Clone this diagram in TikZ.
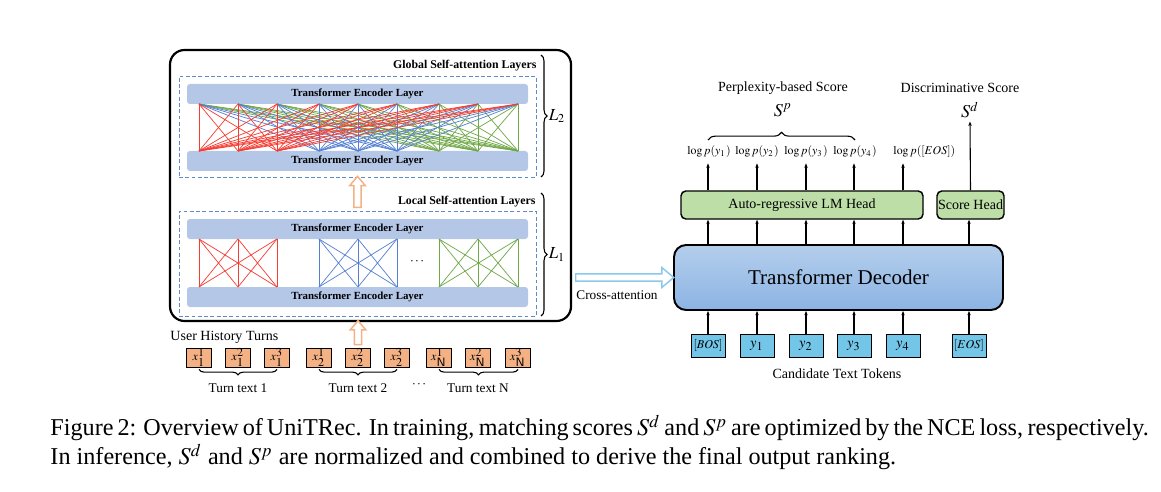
\documentclass[tikz,border=0pt]{standalone}
\usepackage{mathptmx}
\usepackage{fontspec}
\setmainfont{Liberation Serif}
\usetikzlibrary{arrows.meta,shapes.arrows,decorations.pathreplacing,fit,calc}

\newcommand{\px}{0.4138pt}
\definecolor{barblue}{RGB}{180,199,231}
\definecolor{dashblue}{RGB}{91,140,200}
\definecolor{lnred}{RGB}{245,60,50}
\definecolor{lnblue}{RGB}{85,128,210}
\definecolor{lngreen}{RGB}{112,168,72}
\definecolor{turnorange}{RGB}{244,177,131}
\definecolor{tokblue}{RGB}{115,198,232}
\definecolor{headgreen}{RGB}{190,222,168}
\definecolor{decTop}{RGB}{180,206,236}
\definecolor{decBot}{RGB}{140,180,228}
\definecolor{crossblue}{RGB}{140,200,235}

\tikzset{
  encbar/.style={fill=barblue, rounded corners=1.2pt, inner sep=0pt,
    minimum width=341*\px, minimum height=20*\px,
    font=\fontsize{4.5}{5}\selectfont\bfseries},
  attbox/.style={draw=dashblue, dash pattern=on 1.6pt off 1pt, line width=0.4pt, inner sep=0pt},
  attline/.style={line width=0.3pt},
  ttl/.style={font=\fontsize{4.9}{5.5}\selectfont\bfseries, inner sep=0pt},
  lbl/.style={font=\fontsize{5.5}{6.5}\selectfont, inner sep=0pt},
  turnbox/.style={draw, fill=turnorange, line width=0.4pt, minimum width=25*\px,
    minimum height=19*\px, inner sep=0pt, font=\fontsize{5}{6}\selectfont},
  tokbox/.style={draw, fill=tokblue, line width=0.4pt, minimum width=34*\px,
    minimum height=23*\px, inner sep=0pt, font=\fontsize{6}{7}\selectfont},
  headbox/.style={draw, fill=headgreen, line width=0.6pt, rounded corners=2pt,
    inner sep=0pt, minimum height=28*\px, font=\fontsize{5.8}{7}\selectfont},
  holarrow/.style={single arrow, draw=turnorange, fill=white, line width=0.6pt,
    inner sep=1.2pt, single arrow head extend=1.7pt, single arrow tip angle=80,
    minimum height=31*\px, rotate=90},
  crossarrow/.style={single arrow, draw=crossblue, fill=white, line width=0.6pt,
    inner sep=1.2pt, single arrow head extend=2.6pt, single arrow tip angle=80,
    minimum height=98*\px},
  lbrace/.style={decorate, decoration={brace, amplitude=2.5pt}, line width=0.45pt},
  arr/.style={-{Stealth[length=1.8pt, width=1.4pt]}, line width=0.45pt}
}

\begin{document}
\begin{tikzpicture}[x=0.4138pt, y=-0.4138pt]
  \useasboundingbox (0,0) rectangle (1161,492);

  % outer encoder frame
  \node[draw, line width=0.9pt, rounded corners=6pt, inner sep=0pt,
    fit={(170,50) (571,321)}] (outer) {};

  % global self-attention block
  \node[attbox, fit={(179,76) (536,177)}] (gbox) {};
  \node[ttl, anchor=base east] (gttl) at (537,69) {Global Self-attention Layers};
  \node[encbar] (gTop) at (357.5,94) {Transformer Encoder Layer};
  \node[encbar] (gBot) at (357.5,161) {Transformer Encoder Layer};

  % local self-attention block
  \node[attbox, fit={(179,211) (536,316)}] (lbox) {};
  \node[ttl, anchor=base east] (lttl) at (536,204) {Local Self-attention Layers};
  \node[encbar] (lTop) at (357.5,229) {Transformer Encoder Layer};
  \node[encbar] (lBot) at (357.5,297) {Transformer Encoder Layer};

  \foreach \i/\x in {1/199,2/238,3/277,4/319,5/358,6/397,7/439,8/478,9/518} {
    \coordinate (gt\i) at (\x,104);
    \coordinate (gb\i) at (\x,151);
    \coordinate (lt\i) at (\x,239);
    \coordinate (lb\i) at (\x,287);
  }

  % all-to-all links
  \foreach \c/\a/\b/\d in {lngreen/7/8/9, lnblue/4/5/6, lnred/1/2/3}
    \foreach \i in {\a,\b,\d}
      \foreach \j in {1,...,9}
        \draw[\c, attline] (gb\i) -- (gt\j);

  % turn-wise links
  \foreach \c/\a/\b/\d in {lnred/1/2/3, lnblue/4/5/6, lngreen/7/8/9}
    \foreach \i in {\a,\b,\d}
      \foreach \j in {\a,\b,\d}
        \draw[\c, attline] (lb\i) -- (lt\j);
  \node[lbl] (ldots) at (417,262) {$\cdots$};

  % layer braces
  \coordinate (l2a) at (541,55);
  \coordinate (l2b) at (541,177);
  \draw[lbrace] (l2a) -- (l2b) node[midway, right=3pt, inner sep=0pt,
    font=\fontsize{7}{8}\selectfont] (L2) {$L_2$};
  \coordinate (l1a) at (541,193);
  \coordinate (l1b) at (541,316);
  \draw[lbrace] (l1a) -- (l1b) node[midway, right=3pt, inner sep=0pt,
    font=\fontsize{7}{8}\selectfont] (L1) {$L_1$};

  \path (lbox.north) -- (gbox.south) node[midway, holarrow] (upA) {};

  % user history turns
  \node[lbl, anchor=west, font=\fontsize{5.8}{7}\selectfont] (uht) at (170,337) {User History Turns};
  \foreach \k/\x in {1/199,2/238,3/277}
    \node[turnbox] (t1\k) at (\x,357.5) {$x_1^{\k}$};
  \foreach \k/\x in {1/319,2/358,3/397}
    \node[turnbox] (t2\k) at (\x,357.5) {$x_2^{\k}$};
  \foreach \k/\x in {1/439,2/478,3/518}
    \node[turnbox] (tN\k) at (\x,357.5) {$x_{\mathsf{N}}^{\k}$};

  \path (t22.north) -- (outer.south -| t22) node[midway, holarrow,
    minimum height=24*\px] (upB) {};

  \draw[lbrace, decoration={amplitude=2.2pt}] ($(t13.south)+(0,2)$) -- ($(t11.south)+(0,2)$);
  \draw[lbrace, decoration={amplitude=2.2pt}] ($(t23.south)+(0,2)$) -- ($(t21.south)+(0,2)$);
  \draw[lbrace, decoration={amplitude=2.2pt}] ($(tN3.south)+(0,2)$) -- ($(tN1.south)+(0,2)$);
  \node[lbl] (tt1) at (238,388) {Turn text 1};
  \node[lbl] (tt2) at (358,388) {Turn text 2};
  \node[lbl] (ttN) at (478,388) {Turn text N};
  \node[lbl] (tdots) at (419,385) {$\cdots$};

  % decoder side
  \node[draw, line width=0.8pt, rounded corners=5pt, top color=decTop,
    bottom color=decBot, inner sep=0pt, minimum width=329*\px, minimum height=65*\px,
    font=\fontsize{8.7}{10}\selectfont] (dec) at (838.5,277.5) {Transformer Decoder};

  \path (outer.east |- dec.west) -- (dec.west) node[midway, crossarrow] (xarr) {};
  \node[lbl] (xlbl) at (617,295) {Cross-attention};

  \node[tokbox, font=\fontsize{5}{6}\selectfont] (bos) at (708,345.5) {$[BOS]$};
  \node[tokbox] (y1) at (757,345.5) {$y_1$};
  \node[tokbox] (y2) at (806,345.5) {$y_2$};
  \node[tokbox] (y3) at (854,345.5) {$y_3$};
  \node[tokbox] (y4) at (903,345.5) {$y_4$};
  \node[tokbox, font=\fontsize{5}{6}\selectfont] (eos) at (969,345.5) {$[EOS]$};
  \node[lbl, font=\fontsize{5.8}{7}\selectfont] (ctt) at (837,374) {Candidate Text Tokens};
  \foreach \t in {bos,y1,y2,y3,y4,eos}
    \draw[arr] (\t.north) -- (\t |- dec.south);

  \node[headbox, minimum width=242*\px] (lm) at (802,205) {Auto-regressive LM Head};
  \node[headbox, minimum width=67*\px] (sh) at (970.5,205) {Score Head};
  \foreach \t in {bos,y1,y2,y3,y4}
    \draw[arr] (dec.north -| \t) -- (lm.south -| \t);
  \draw[arr] (dec.north -| eos) -- (sh.south -| eos);

  % scores
  \node[lbl, font=\fontsize{4.9}{6}\selectfont] (lp1) at (709,152) {$\log p(y_1)$};
  \node[lbl, font=\fontsize{4.9}{6}\selectfont] (lp2) at (757,152) {$\log p(y_2)$};
  \node[lbl, font=\fontsize{4.9}{6}\selectfont] (lp3) at (806,152) {$\log p(y_3)$};
  \node[lbl, font=\fontsize{4.9}{6}\selectfont] (lp4) at (855,152) {$\log p(y_4)$};
  \node[lbl, font=\fontsize{4.9}{6}\selectfont, anchor=west] (lp5) at (893,152) {$\log p([EOS])$};
  \draw[arr] (lm.north -| bos) -- ($(lp1.south -| bos)+(0,5)$);
  \draw[arr] (lm.north -| y1) -- ($(lp2.south -| y1)+(0,5)$);
  \draw[arr] (lm.north -| y2) -- ($(lp3.south -| y2)+(0,5)$);
  \draw[arr] (lm.north -| y3) -- ($(lp4.south -| y3)+(0,5)$);
  \draw[arr] (lm.north -| y4) -- ($(lp5.south -| y4)+(0,5)$);

  \draw[lbrace, decoration={amplitude=3.2pt}] (708,140) -- (855,140);
  \node[lbl, font=\fontsize{7.5}{9}\selectfont] (sp) at (783,110) {$S^p$};
  \node[lbl, font=\fontsize{5.8}{7}\selectfont] (pbs) at (783,88) {Perplexity-based Score};
  \node[lbl, font=\fontsize{7.5}{9}\selectfont] (sd) at (970,110) {$S^d$};
  \node[lbl, font=\fontsize{5.8}{7}\selectfont] (dis) at (960,88) {Discriminative Score};
  \draw[arr] (sh.north) -- ($(sd.south)+(0,3)$);

  % caption
  \node[anchor=west, inner sep=0pt, font=\fontsize{10}{12}\selectfont] (cap1) at (50,428)
    {\makebox[448pt][s]{Figure 2: Overview of UniTRec. In training, matching scores $S^d$ and $S^p$ are optimized by the NCE loss, respectively.}};
  \node[anchor=west, inner sep=0pt, font=\fontsize{10}{12}\selectfont] (cap2) at (50,457)
    {In inference, $S^d$ and $S^p$ are normalized and combined to derive the final output ranking.};
\end{tikzpicture}
\end{document}
